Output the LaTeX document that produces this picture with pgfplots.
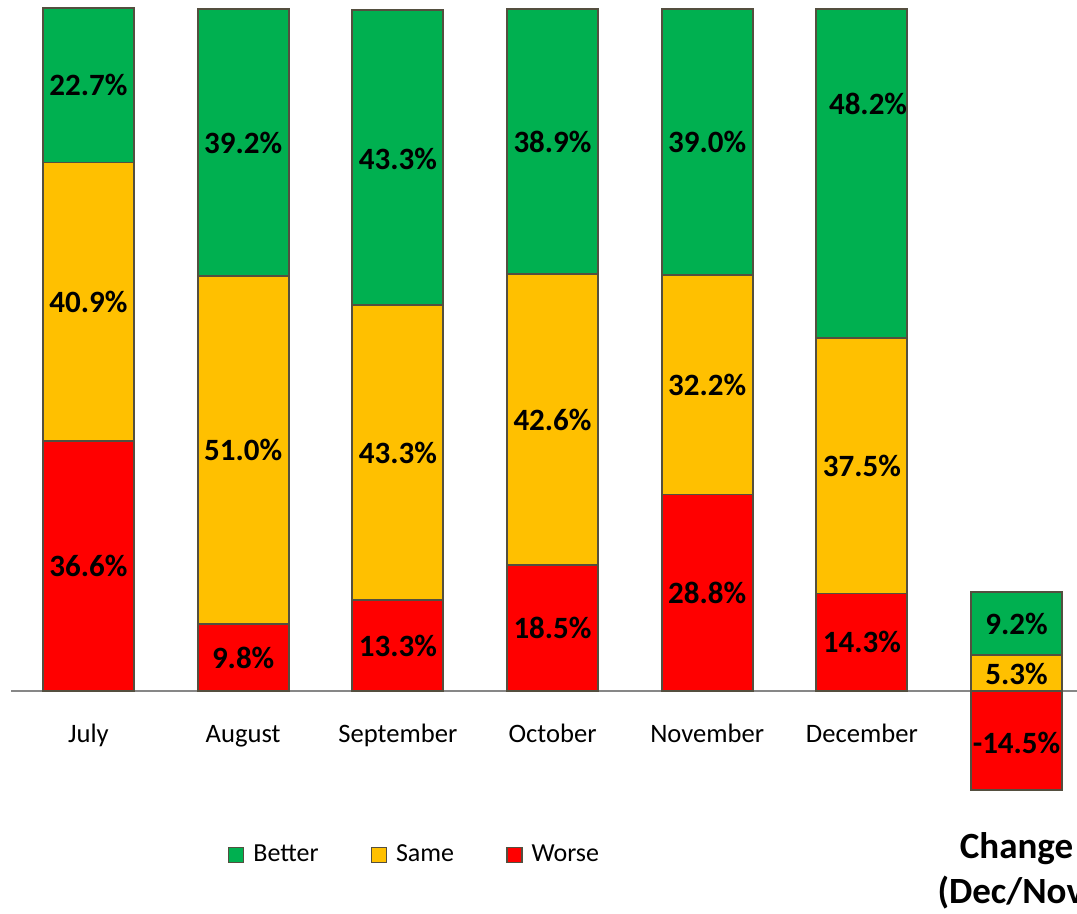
\documentclass[border=0pt]{standalone}
\usepackage{pgfplots}
\pgfplotsset{compat=1.18}
\usepackage{fontspec}
\setmainfont{Carlito}
\definecolor{cgreen}{RGB}{0,176,80}
\definecolor{cyellow}{RGB}{255,192,0}
\definecolor{cred}{RGB}{255,0,0}
\definecolor{cborder}{RGB}{84,79,63}
\definecolor{caxis}{RGB}{135,135,135}
\begin{document}
\begin{tikzpicture}
\pgfplotsset{
  common/.style={
    width=538.5pt, height=456.5pt, scale only axis,
    xmin=-0.5722, xmax=6.391, ymin=-32.55, ymax=101.32,
  },
  barst/.style={draw=cborder, line width=0.9pt},
}
\begin{axis}[common, name=main,
  ybar stacked, bar width=0.588,
  axis x line=middle, axis y line=none, ytick=\empty,
  x axis line style={draw=caxis, line width=1pt, -, shorten <=5.5pt},
  xtick={0,1,2,3,4,5},
  xticklabels={July,August,September,October,November,December},
  major tick length=0pt,
  xticklabel style={anchor=base, yshift=-25.5pt, font=\fontsize{13.3}{16}\selectfont},
  extra x ticks={6},
  extra x tick labels={Change\\(Dec/Nov)},
  extra x tick style={xticklabel style={anchor=center, yshift=-64.5pt, align=center, font=\fontsize{18.5}{22.5}\selectfont\bfseries}},
]
\addplot[barst, fill=cred] coordinates {(0,36.6) (1,9.8) (2,13.3) (3,18.5) (4,28.8) (5,14.3)};
\addplot[barst, fill=cyellow] coordinates {(0,40.9) (1,51.0) (2,43.3) (3,42.6) (4,32.2) (5,37.5)};
\addplot[barst, fill=cgreen] coordinates {(0,22.7) (1,39.2) (2,43.3) (3,38.9) (4,39.0) (5,48.2)};
\end{axis}
\begin{axis}[common, hide axis, clip=false,
  legend style={at={(0.3858,0.0635)}, anchor=center, draw=none, fill=none,
    legend columns=3, font=\fontsize{13}{15.6}\selectfont,
    /tikz/every odd column/.append style={column sep=2.5pt},
    /tikz/every even column/.append style={column sep=24pt}},
  legend image code/.code={\draw[#1, draw=cborder, line width=0.7pt] (0pt,-3.75pt) rectangle (7.5pt,3.75pt);},
]
\addplot[forget plot, ybar, bar width=0.588, bar shift=0pt, barst, fill=cgreen] coordinates {(6,14.5)};
\addplot[forget plot, ybar, bar width=0.588, bar shift=0pt, barst, fill=cyellow] coordinates {(6,5.3)};
\addplot[forget plot, ybar, bar width=0.588, bar shift=0pt, barst, fill=cred] coordinates {(6,-14.5)};
\addplot[forget plot, draw=none, mark=none, point meta=explicit,
  nodes near coords={\pgfmathprintnumber[fixed,fixed zerofill,precision=1,assume math mode=true]{\pgfplotspointmeta}\%},
  nodes near coords align=center,
  every node near coord/.append style={anchor=center, inner sep=0pt, font=\fontsize{15.5}{18}\selectfont\bfseries}]
  table[meta=v] {
x y v
0 18.3 36.6
0 57.05 40.9
0 88.85 22.7
1 4.9 9.8
1 35.3 51.0
1 80.4 39.2
2 6.65 13.3
2 34.95 43.3
2 78.0 43.3
3 9.25 18.5
3 39.8 42.6
3 80.55 38.9
4 14.4 28.8
4 44.9 32.2
4 80.5 39.0
5 7.15 14.3
5 33.05 37.5
5.04 86.1 48.2
6 9.9 9.2
6 2.55 5.3
6 -7.6 -14.5
};
\addlegendimage{fill=cgreen}\addlegendentry{Better}
\addlegendimage{fill=cyellow}\addlegendentry{Same}
\addlegendimage{fill=cred}\addlegendentry{Worse}
\end{axis}
\pgfresetboundingbox
\useasboundingbox (main.south west) rectangle (main.north east);
\end{tikzpicture}
\end{document}
